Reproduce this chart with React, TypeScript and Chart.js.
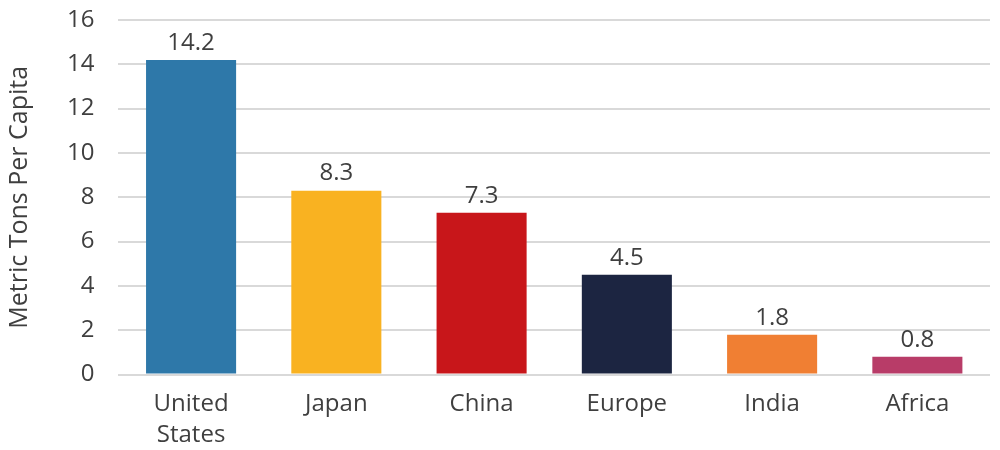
import React, { useEffect, useRef } from "react";
import { Chart, registerables } from "chart.js";

Chart.register(...registerables);

const categories: (string | string[])[] = [["United", "States"], "Japan", "China", "Europe", "India", "Africa"];
const values = [14.2, 8.3, 7.3, 4.5, 1.8, 0.8];
const barColors = ["#2E78A9", "#F9B221", "#C8161A", "#1C2541", "#F07F33", "#B83C68"];
const yTitle = "Metric Tons Per Capita";

const FONT = "'Open Sans', 'DejaVu Sans', sans-serif";
const TEXT = "#3f3f3f";

const labelPlugin = {
  id: "valueLabels",
  afterDatasetsDraw(chart: any) {
    const ctx = chart.ctx;
    const meta = chart.getDatasetMeta(0);
    ctx.save();
    ctx.font = `24px ${FONT}`;
    ctx.fillStyle = TEXT;
    ctx.textAlign = "center";
    ctx.textBaseline = "bottom";
    meta.data.forEach((el: any, i: number) => {
      ctx.fillText(values[i].toFixed(1), el.x, el.y - 5);
    });
    ctx.restore();
  },
};

export default function App() {
  const ref = useRef<HTMLCanvasElement>(null);
  useEffect(() => {
    if (!ref.current) return;
    const chart = new Chart(ref.current, {
      type: "bar",
      data: {
        labels: categories,
        datasets: [
          {
            data: values,
            backgroundColor: barColors,
            barPercentage: 0.62,
            categoryPercentage: 1,
          },
        ],
      },
      options: {
        animation: false,
        responsive: true,
        maintainAspectRatio: false,
        layout: { autoPadding: false, padding: { top: 20, right: 10, left: 5, bottom: -15 } },
        plugins: { legend: { display: false }, tooltip: { enabled: false } },
        scales: {
          x: {
            grid: { display: false, drawTicks: false },
            border: { display: false },
            ticks: { color: TEXT, font: { family: FONT, size: 24, lineHeight: 1.3 }, padding: 14 },
            afterFit(scale: any) {
              scale.paddingTop = 0;
              scale.paddingBottom = 0;
            },
          },
          y: {
            min: 0,
            max: 16,
            ticks: { stepSize: 2, color: TEXT, font: { family: FONT, size: 24 }, padding: 24 },
            grid: { color: "#d9d9d9", lineWidth: 2, drawTicks: false },
            border: { display: false },
            title: {
              display: true,
              text: yTitle,
              color: TEXT,
              font: { family: FONT, size: 25 },
              padding: { top: 0, bottom: 8 },
            },
            afterFit(scale: any) {
              scale.paddingTop = 0;
              scale.paddingBottom = 0;
            },
          },
        },
      },
      plugins: [labelPlugin],
    });
    return () => chart.destroy();
  }, []);
  return (
    <div style={{ position: "fixed", left: 0, top: 0, width: 1000, height: 450, background: "#fff" }}>
      <canvas ref={ref} />
    </div>
  );
}
